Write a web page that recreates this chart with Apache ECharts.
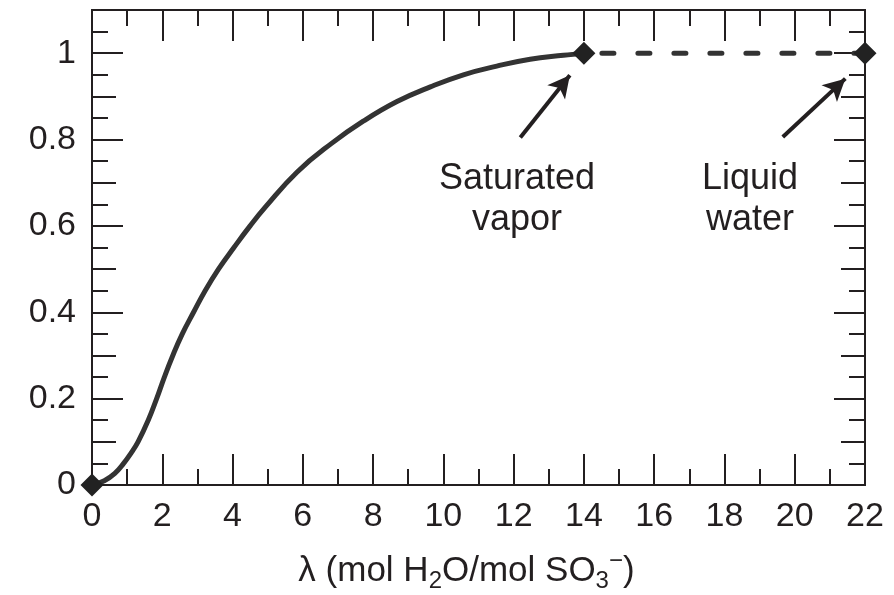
<!DOCTYPE html>
<html>
<head>
<meta charset="utf-8">
<script src="https://cdn.jsdelivr.net/npm/echarts@6/dist/echarts.min.js"></script>
<style>
html,body{margin:0;padding:0;background:#fff;}
#chart{width:894px;height:595px;}
</style>
</head>
<body>
<div id="chart"></div>
<script>
// Water uptake curve (saturated vapor region)
var lambdaVals = [0, 0.35, 0.65, 0.9, 1.12, 1.31, 1.6, 1.84, 2.06, 2.3, 2.57, 2.89, 3.22, 3.6, 4.04, 4.5, 4.95, 5.84, 6.8, 7.73, 8.68, 9.63, 10.57, 11.52, 12.47, 13.42, 14];
var activityVals = [0, 0.01, 0.027, 0.05, 0.075, 0.1, 0.15, 0.2, 0.25, 0.3, 0.35, 0.4, 0.45, 0.5, 0.55, 0.6, 0.645, 0.725, 0.79, 0.843, 0.888, 0.922, 0.95, 0.97, 0.986, 0.995, 1.0];
// Dashed segment: saturated vapor -> liquid water
var dashLambda = [14, 22];
var dashActivity = [1, 1];
// Diamond markers
var markerLambda = [0, 14, 22];
var markerActivity = [0, 1, 1];
// Tick labels
var xTickLabels = ['0','2','4','6','8','10','12','14','16','18','20','22'];
var yTickLabels = ['0','0.2','0.4','0.6','0.8','1'];
// Annotations
var annotations = [
  {text: 'Saturated\nvapor', tail: [12.19, 0.805], head: [13.60, 0.949]},
  {text: 'Liquid\nwater', tail: [19.66, 0.806], head: [21.44, 0.941]}
];

var FONT = 'Liberation Sans';
var INK = '#231f20';
var LINE = '#333333';

function zip(a, b){ return a.map(function(v,i){ return [v, b[i]]; }); }

var chart = echarts.init(document.getElementById('chart'), null, {renderer:'canvas'});

function xAxisCfg(pos, showLabels){
  return {
    type: 'value', position: pos, min: 0, max: 22, interval: 2,
    axisLine: {show: true, onZero: false, lineStyle: {color: INK, width: 2}},
    axisTick: {show: true, inside: true, length: 31, lineStyle: {color: INK, width: 2}},
    minorTick: {show: true, splitNumber: 2, length: 16, lineStyle: {color: INK, width: 2}},
    splitLine: {show: false}, minorSplitLine: {show: false},
    axisLabel: {show: showLabels, fontFamily: FONT, fontSize: 34, color: INK, margin: 15,
      formatter: function(v){ var s = String(Math.round(v)); return xTickLabels.indexOf(s) >= 0 ? s : ''; }},
    name: showLabels ? '{n|λ (mol H}{sub|2}{n|O/mol SO}{sub|3}{sup|−}{n|)}' : '',
    nameLocation: 'middle', nameGap: 66,
    nameTextStyle: {
      fontFamily: FONT, color: INK, padding: [0, 24, 0, 0],
      rich: {
        n: {fontFamily: FONT, fontSize: 35, color: INK, lineHeight: 40},
        sub: {fontFamily: FONT, fontSize: 24, color: INK, lineHeight: 24, padding: [20, 0, 0, 0]},
        sup: {fontFamily: FONT, fontSize: 24, color: INK, lineHeight: 24, padding: [0, 0, 20, 0]}
      }
    }
  };
}
function yAxisCfg(pos, interval, len, minor, showLabels){
  return {
    type: 'value', position: pos, min: 0, max: 1.1, interval: interval,
    axisLine: {show: true, onZero: false, lineStyle: {color: INK, width: 2}},
    axisTick: {show: true, inside: true, length: len, lineStyle: {color: INK, width: 2}},
    minorTick: {show: minor, splitNumber: 2, length: 16, lineStyle: {color: INK, width: 2}},
    splitLine: {show: false}, minorSplitLine: {show: false},
    axisLabel: {show: showLabels, fontFamily: FONT, fontSize: 34, color: INK, margin: 16,
      formatter: function(v){ if (v > 1.05) return ''; var s = String(Math.round(v*10)/10); return yTickLabels.indexOf(s) >= 0 ? s : ''; }}
  };
}

var markLineData = annotations.map(function(a){
  return [{coord: a.tail}, {coord: a.head}];
});

var option = {
  animation: false,
  backgroundColor: '#ffffff',
  grid: {left: 92, right: 29, top: 10, bottom: 110, containLabel: false, outerBoundsMode: 'none'},
  xAxis: [xAxisCfg('bottom', true), xAxisCfg('top', false)],
  yAxis: [
    yAxisCfg('left', 0.1, 24, true, false),
    yAxisCfg('left', 0.2, 31, false, true),
    yAxisCfg('right', 0.1, 24, true, false),
    yAxisCfg('right', 0.2, 31, false, false)
  ],
  series: [
    {
      type: 'line', xAxisIndex: 0, yAxisIndex: 0,
      data: zip(lambdaVals, activityVals),
      smooth: 0.45, showSymbol: false, symbol: 'none',
      lineStyle: {color: LINE, width: 5, cap: 'round', join: 'round'},
      z: 3
    },
    {
      type: 'line', xAxisIndex: 0, yAxisIndex: 0,
      data: zip(dashLambda, dashActivity),
      showSymbol: false, symbol: 'none',
      lineStyle: {color: LINE, width: 5, type: [12, 24], dashOffset: -18, cap: 'round'},
      z: 3,
      markLine: {
        silent: true, animation: false,
        symbol: ['none', 'arrow'], symbolSize: [17, 22],
        label: {show: false},
        lineStyle: {color: INK, width: 4, type: 'solid'},
        data: markLineData
      }
    },
    {
      type: 'scatter', xAxisIndex: 0, yAxisIndex: 0,
      data: zip(markerLambda, markerActivity),
      symbol: 'diamond', symbolSize: 23, clip: false,
      itemStyle: {color: '#222222', opacity: 1},
      z: 5
    }
  ],
  graphic: [
    {type: 'text', x: 517, y: 159, z: 10,
      style: {text: annotations[0].text, align: 'center', verticalAlign: 'top', font: '36px "Liberation Sans"', fill: INK, lineHeight: 41}},
    {type: 'text', x: 750, y: 159, z: 10,
      style: {text: annotations[1].text, align: 'center', verticalAlign: 'top', font: '36px "Liberation Sans"', fill: INK, lineHeight: 41}}
  ]
};
chart.setOption(option);
</script>
</body>
</html>
